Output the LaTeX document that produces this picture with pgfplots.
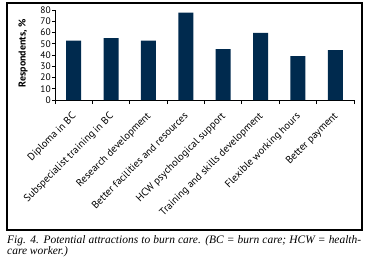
\documentclass[border=0pt]{standalone}
\usepackage{pgfplots}
\pgfplotsset{compat=1.18}
\usepackage{fontspec}
\setmainfont{PT Sans}
\newfontfamily\capfont{Liberation Serif}
\definecolor{barblue}{HTML}{002A4E}
\begin{document}
\begin{tikzpicture}[x=1bp,y=1bp]
\path (-55,-171) rectangle (314,100);
\draw[line width=1.2bp] (-48,97) rectangle (307,-130);
\begin{axis}[
  at={(0,0)}, anchor=south west,
  scale only axis, width=299bp, height=90bp,
  xmin=-0.5, xmax=7.5, ymin=0, ymax=80,
  axis x line*=bottom, axis y line*=left,
  axis line style={line width=0.8bp, -},
  ytick={0,10,...,80},
  xtick={0,...,7},
  xticklabels={Diploma in BC,Subspecialist training in BC,Research development,Better facilities and resources,HCW psychological support,Training and skills development,Flexible working hours,Better payment},
  x tick label style={rotate=45, anchor=north east, xshift=-7bp, yshift=-3.5bp, inner sep=0.5bp, font=\fontsize{10.4}{11}\selectfont},
  y tick label style={font=\fontsize{9.5}{10}\selectfont, inner sep=1bp},
  /pgf/number format/assume math mode=true,
  major x tick style={draw=none},
  minor xtick={-0.5,0.5,...,7.5},
  tick align=outside,
  minor tick length=4bp, major tick length=3bp,
  tick style={line width=0.8bp, black},
  ylabel={\bfseries Respondents, \%},
  ylabel style={font=\fontsize{10}{11}\selectfont, at={(axis description cs:-0.107,0.52)}, anchor=center},
]
\addplot[ybar, bar width=15bp, fill=barblue, draw=none] coordinates {
(0,52.7) (1,55.1) (2,52.7) (3,77.6) (4,45.3) (5,59.6) (6,39.1) (7,44.4)
};
\end{axis}
\node[anchor=base west, inner sep=0] at (-48,-143) {\capfont\itshape\fontsize{11.5}{12}\selectfont\makebox[354bp][s]{Fig. 4. Potential attractions to burn care. (BC = burn care; HCW = health-}};
\node[anchor=base west, inner sep=0] at (-48,-154.5) {\capfont\itshape\fontsize{11.5}{12}\selectfont care worker.)};
\end{tikzpicture}
\end{document}
